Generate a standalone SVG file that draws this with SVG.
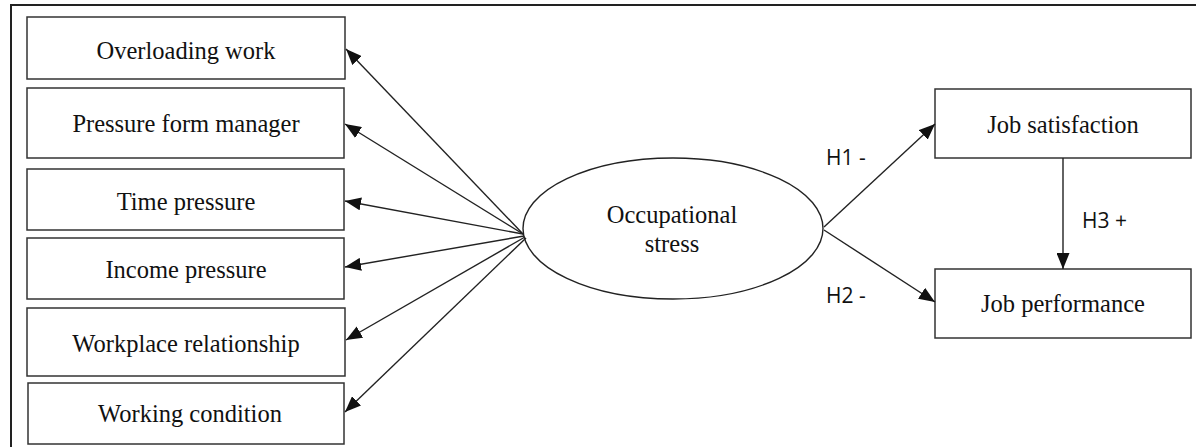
<svg xmlns="http://www.w3.org/2000/svg" width="1196" height="447" viewBox="0 0 1196 447">
<style>
.box{fill:#fff;stroke:#333;stroke-width:1.5}
.t{font-family:"Liberation Serif","Times New Roman",serif;font-size:24.5px;fill:#111;text-anchor:middle}
.h{font-family:"Open Sans","Liberation Sans",Arial,sans-serif;font-size:21px;fill:#111}
.c{stroke:#222;stroke-width:1.4;fill:none;marker-end:url(#ah)}
</style>
<defs>
<marker id="ah" viewBox="0 0 16 13" refX="16" refY="6.5" markerWidth="16" markerHeight="13" markerUnits="userSpaceOnUse" orient="auto">
<path d="M0,0 L16,6.5 L0,13 Z" fill="#111"/>
</marker>
</defs>
<rect x="0" y="0" width="1196" height="447" fill="#fff"/>
<path d="M11,450 L11,5 L1200,5" fill="none" stroke="#222" stroke-width="2"/>
<g id="n1"><rect class="box" x="27" y="17" width="318" height="62"/><text class="t" x="186" y="59">Overloading work</text></g>
<g id="n2"><rect class="box" x="27" y="88" width="317" height="70"/><text class="t" x="186" y="132">Pressure form manager</text></g>
<g id="n3"><rect class="box" x="27" y="169" width="317" height="61"/><text class="t" x="186" y="210">Time pressure</text></g>
<g id="n4"><rect class="box" x="27" y="238" width="317" height="61"/><text class="t" x="186" y="278">Income pressure</text></g>
<g id="n5"><rect class="box" x="27" y="308" width="318" height="68"/><text class="t" x="186" y="352">Workplace relationship</text></g>
<g id="n6"><rect class="box" x="28" y="383" width="316" height="61"/><text class="t" x="190" y="422">Working condition</text></g>
<g id="stress"><ellipse cx="673" cy="228.5" rx="150" ry="70.5" fill="#fff" stroke="#222" stroke-width="1.4"/><text class="t" x="672" y="223">Occupational</text><text class="t" x="672" y="252">stress</text></g>
<g id="sat"><rect class="box" x="935" y="89" width="256" height="69"/><text class="t" x="1063" y="133">Job satisfaction</text></g>
<g id="perf"><rect class="box" x="935" y="269" width="256" height="69"/><text class="t" x="1063" y="312">Job performance</text></g>
<g id="connectors">
<line class="c" x1="523" y1="234" x2="346" y2="49"/>
<line class="c" x1="523" y1="234" x2="345" y2="124"/>
<line class="c" x1="523" y1="234" x2="345" y2="201"/>
<line class="c" x1="524" y1="236" x2="345" y2="267"/>
<line class="c" x1="525" y1="237" x2="346" y2="340"/>
<line class="c" x1="526" y1="238" x2="345" y2="412"/>
<line class="c" x1="824" y1="227" x2="935" y2="124"/>
<line class="c" x1="824" y1="230" x2="935" y2="302"/>
<line class="c" x1="1063" y1="158" x2="1063" y2="269"/>
</g>
<text class="h" x="826" y="165">H1 -</text>
<text class="h" x="826" y="303">H2 -</text>
<text class="h" x="1082" y="228">H3 +</text>
</svg>
